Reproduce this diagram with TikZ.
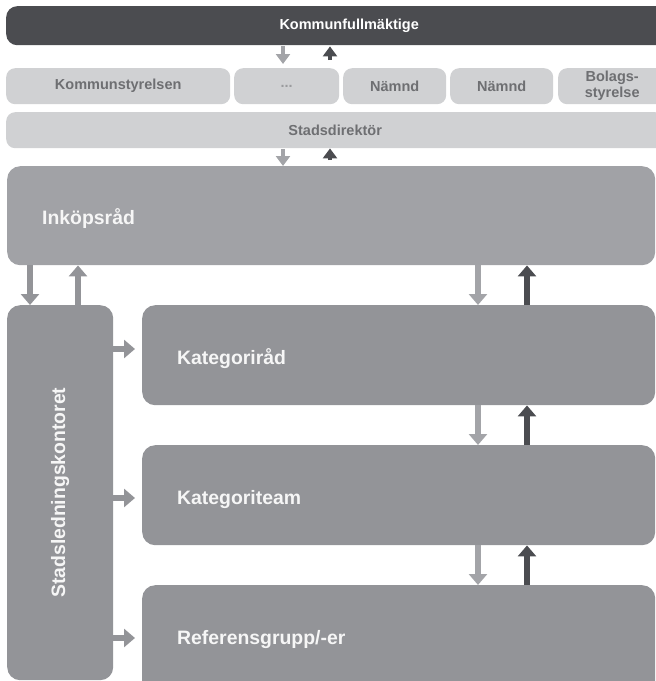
\documentclass[tikz,border=0pt]{standalone}
\usepackage{fontspec}
\setmainfont{Liberation Sans}
\usetikzlibrary{arrows.meta}
\definecolor{cdark}{HTML}{4B4C50}
\definecolor{clight}{HTML}{D0D1D3}
\definecolor{clighttext}{HTML}{6E6F72}
\definecolor{cdots}{HTML}{9A9B9E}
\definecolor{cink}{HTML}{A1A2A6}
\definecolor{cmid}{HTML}{939498}
\definecolor{carrlight}{HTML}{A3A4A8}
\definecolor{cwhite}{HTML}{F6F6F6}
\begin{document}
\begin{tikzpicture}[x=1pt,y=-1pt,
  box/.style={rounded corners=11pt, inner sep=0pt, anchor=north west, draw=none},
  topbar/.style={box, fill=cdark, text=white, font=\bfseries\fontsize{14.5}{16}\selectfont},
  rowbox/.style={box, rounded corners=9pt, fill=clight, text=clighttext, font=\bfseries\fontsize{14.5}{16}\selectfont, align=center},
  bigbox/.style={box, rounded corners=13pt, fill=cmid, text=cwhite, font=\bfseries\fontsize{19.4}{22}\selectfont, align=left, inner xsep=35pt, text height=22pt, text depth=4pt},
  bigarr/.style={line width=5.5pt, -{Triangle[width=18pt,length=11pt]}},
  smallarr/.style={line width=4pt, -{Triangle[width=14pt,length=10pt]}}
]
\useasboundingbox (0,0) rectangle (656,681);
\clip (0,0) rectangle (656,681);

% top bars
\node[topbar, minimum width=686pt, minimum height=39pt] (kf) at (6,6) {Kommunfullmäktige};
\node[rowbox, minimum width=224pt, minimum height=36pt] (ks) at (6,68) {Kommunstyrelsen};
\node[rowbox, text=cdots, minimum width=105pt, minimum height=36pt] (dots) at (234,68) {...};
\node[rowbox, minimum width=103pt, minimum height=36pt] (n1) at (343,68) {Nämnd};
\node[rowbox, minimum width=103pt, minimum height=36pt] (n2) at (450,68) {Nämnd};
\node[rowbox, minimum width=108pt, minimum height=36pt] (bol) at (558,68) {Bolags-\\styrelse};
\node[rowbox, minimum width=658pt, minimum height=36pt] (sd) at (6,112) {Stadsdirektör};

% big boxes
\node[bigbox, fill=cink, minimum width=648pt, minimum height=99pt, text width=578pt, text height=21pt] (ink) at (7,166) {Inköpsråd};
\node[box, rounded corners=13pt, fill=cmid, minimum width=106pt, minimum height=375pt] (sl) at (7,305) {};
\node[rotate=90, text=cwhite, font=\bfseries\fontsize{19.4}{22}\selectfont] (sltext) at (sl.center) {Stadsledningskontoret};
\node[bigbox, minimum width=513pt, minimum height=100pt, text width=443pt] (kr) at (142,305) {Kategoriråd};
\node[bigbox, minimum width=513pt, minimum height=100pt, text width=443pt] (kt) at (142,445) {Kategoriteam};
\node[bigbox, minimum width=513pt, minimum height=120pt, text width=443pt, text height=14pt, text depth=16pt] (rg) at (142,585) {Referensgrupp/-er};

% helper x / y positions
\coordinate (xa) at (283,0);
\coordinate (xb) at (330,0);
\coordinate (xl1) at (30,0);
\coordinate (xl2) at (78,0);
\coordinate (xr1) at (478,0);
\coordinate (xr2) at (527,0);
\coordinate (y1) at (0,349);
\coordinate (y2) at (0,498);
\coordinate (y3) at (0,638);

% small arrows at top
\draw[smallarr, carrlight, shorten <=1pt, shorten >=4pt] (kf.south -| xa) -- (dots.north -| xa);
\draw[smallarr, cdark, shorten <=8pt, shorten >=1pt] (dots.north -| xb) -- (kf.south -| xb);
\draw[smallarr, carrlight, shorten <=1pt] (sd.south -| xa) -- (ink.north -| xa);
\draw[smallarr, cdark, shorten <=6pt] (ink.north -| xb) -- (sd.south -| xb);

% left arrows
\draw[bigarr, cmid] (ink.south -| xl1) -- (sl.north -| xl1);
\draw[bigarr, cmid] (sl.north -| xl2) -- (ink.south -| xl2);

% right column arrows
\draw[bigarr, carrlight] (ink.south -| xr1) -- (kr.north -| xr1);
\draw[bigarr, cdark] (kr.north -| xr2) -- (ink.south -| xr2);
\draw[bigarr, carrlight] (kr.south -| xr1) -- (kt.north -| xr1);
\draw[bigarr, cdark] (kt.north -| xr2) -- (kr.south -| xr2);
\draw[bigarr, carrlight] (kt.south -| xr1) -- (rg.north -| xr1);
\draw[bigarr, cdark] (rg.north -| xr2) -- (kt.south -| xr2);

% horizontal arrows
\draw[bigarr, cmid, shorten >=7pt] (sl.east |- y1) -- (kr.west |- y1);
\draw[bigarr, cmid, shorten >=7pt] (sl.east |- y2) -- (kt.west |- y2);
\draw[bigarr, cmid, shorten >=7pt] (sl.east |- y3) -- (rg.west |- y3);
\end{tikzpicture}
\end{document}
